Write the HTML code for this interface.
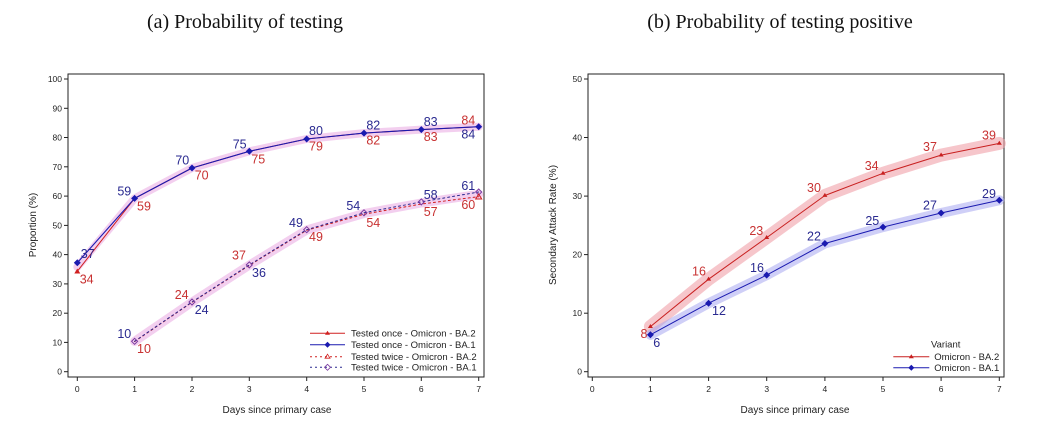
<!DOCTYPE html>
<html><head><meta charset="utf-8"><style>
body{margin:0;background:#fff}
svg{display:block;font-family:"Liberation Sans",sans-serif}
.t{font-family:"Liberation Serif",serif;font-size:20px;fill:#111}
.tk{font-size:8.5px;fill:#222}
.ax{font-size:10px;fill:#222}
.r{fill:#c83232;font-size:12.5px;text-anchor:middle}
.b{fill:#2a2a90;font-size:12.5px;text-anchor:middle}
.lg{font-size:9.5px;fill:#222}
</style></head><body>
<svg width="1048" height="441" viewBox="0 0 1048 441">
<rect width="1048" height="441" fill="#fff"/>
<text class="t" x="245" y="28" text-anchor="middle">(a) Probability of testing</text>
<text class="t" x="780" y="28" text-anchor="middle">(b) Probability of testing positive</text>

<!-- Panel A -->
<rect x="68" y="74" width="416" height="303" fill="none" stroke="#222" stroke-width="1"/>
<g stroke="#222" stroke-width="1">
<line x1="64" y1="371.7" x2="68" y2="371.7"/><line x1="64" y1="342.4" x2="68" y2="342.4"/><line x1="64" y1="313.2" x2="68" y2="313.2"/><line x1="64" y1="283.9" x2="68" y2="283.9"/><line x1="64" y1="254.6" x2="68" y2="254.6"/><line x1="64" y1="225.4" x2="68" y2="225.4"/><line x1="64" y1="196.1" x2="68" y2="196.1"/><line x1="64" y1="166.8" x2="68" y2="166.8"/><line x1="64" y1="137.5" x2="68" y2="137.5"/><line x1="64" y1="108.3" x2="68" y2="108.3"/><line x1="64" y1="79" x2="68" y2="79"/>
<line x1="77.3" y1="377" x2="77.3" y2="381"/><line x1="134.6" y1="377" x2="134.6" y2="381"/><line x1="192" y1="377" x2="192" y2="381"/><line x1="249.3" y1="377" x2="249.3" y2="381"/><line x1="306.7" y1="377" x2="306.7" y2="381"/><line x1="364" y1="377" x2="364" y2="381"/><line x1="421.3" y1="377" x2="421.3" y2="381"/><line x1="478.7" y1="377" x2="478.7" y2="381"/>
</g>
<g class="tk" text-anchor="end">
<text x="62" y="374.7">0</text><text x="62" y="345.4">10</text><text x="62" y="316.2">20</text><text x="62" y="286.9">30</text><text x="62" y="257.6">40</text><text x="62" y="228.4">50</text><text x="62" y="199.1">60</text><text x="62" y="169.8">70</text><text x="62" y="140.5">80</text><text x="62" y="111.3">90</text><text x="62" y="82">100</text>
</g>
<g class="tk" text-anchor="middle">
<text x="77.3" y="392">0</text><text x="134.6" y="392">1</text><text x="192" y="392">2</text><text x="249.3" y="392">3</text><text x="306.7" y="392">4</text><text x="364" y="392">5</text><text x="421.3" y="392">6</text><text x="478.7" y="392">7</text>
</g>
<text class="ax" x="277" y="413" text-anchor="middle">Days since primary case</text>
<text class="ax" transform="translate(36,225) rotate(-90)" text-anchor="middle">Proportion (%)</text>

<g fill="none" stroke-linejoin="round" stroke-linecap="round">
<polyline points="77.3,267 134.6,198.4 192,168 249.3,151.3 306.7,139 364,133.1 421.3,129.6 478.7,126.7" stroke="#d040c0" stroke-opacity="0.25" stroke-width="8"/>
<polyline points="134.6,341.4 192,302.1 249.3,265.1 306.7,230 364,213.5 421.3,203 478.7,194.3" stroke="#d040c0" stroke-opacity="0.25" stroke-width="9"/>
<polyline points="77.3,271.3 134.6,198.4 192,168 249.3,151.3 306.7,139 364,133.1 421.3,129.6 478.7,126.7" stroke="#d02020" stroke-width="1"/>
<polyline points="77.3,262.8 134.6,198.4 192,168 249.3,151.3 306.7,139 364,133.1 421.3,129.6 478.7,126.7" stroke="#1a1ab0" stroke-width="1.1"/>
<polyline points="134.6,341.6 192,302.3 249.3,265.4 306.7,230.3 364,214.2 421.3,204 478.7,196.7" stroke="#d02020" stroke-width="1" stroke-dasharray="2,3"/>
<polyline points="134.6,341.3 192,302 249.3,264.9 306.7,229.7 364,212.8 421.3,201.9 478.7,192" stroke="#2a2a90" stroke-width="1" stroke-dasharray="2,3"/>
</g>
<g fill="#1a1ab0">
<path d="M77.3,259.3 l3.5,3.5 -3.5,3.5 -3.5,-3.5z"/><path d="M134.6,194.9 l3.5,3.5 -3.5,3.5 -3.5,-3.5z"/><path d="M192,164.5 l3.5,3.5 -3.5,3.5 -3.5,-3.5z"/><path d="M249.3,147.8 l3.5,3.5 -3.5,3.5 -3.5,-3.5z"/><path d="M306.7,135.5 l3.5,3.5 -3.5,3.5 -3.5,-3.5z"/><path d="M364,129.6 l3.5,3.5 -3.5,3.5 -3.5,-3.5z"/><path d="M421.3,126.1 l3.5,3.5 -3.5,3.5 -3.5,-3.5z"/><path d="M478.7,123.2 l3.5,3.5 -3.5,3.5 -3.5,-3.5z"/>
</g>
<path d="M77.3,268.5 l3,5 -6,0z" fill="#d02020"/>
<g fill="none" stroke="#7a3aa0" stroke-width="1">
<path d="M134.6,338.3 l3,3 -3,3 -3,-3z"/><path d="M192,299 l3,3 -3,3 -3,-3z"/><path d="M249.3,261.9 l3,3 -3,3 -3,-3z"/><path d="M306.7,226.7 l3,3 -3,3 -3,-3z"/><path d="M364,209.8 l3,3 -3,3 -3,-3z"/><path d="M421.3,198.9 l3,3 -3,3 -3,-3z"/><path d="M478.7,189 l3,3 -3,3 -3,-3z"/>
</g>
<path d="M478.7,194 l3,5 -6,0z" fill="none" stroke="#d02020"/>

<g>
<text class="b" x="87.7" y="257.8">37</text><text class="r" x="86.7" y="283.5">34</text>
<text class="b" x="124.3" y="195.5">59</text><text class="r" x="144" y="210.5">59</text>
<text class="b" x="182.3" y="164.5">70</text><text class="r" x="201.7" y="179.5">70</text>
<text class="b" x="239.7" y="148.5">75</text><text class="r" x="258.3" y="163.5">75</text>
<text class="b" x="316" y="135.2">80</text><text class="r" x="316" y="150.5">79</text>
<text class="b" x="373.3" y="129.5">82</text><text class="r" x="373.3" y="144.5">82</text>
<text class="b" x="430.7" y="126.2">83</text><text class="r" x="430.7" y="141.2">83</text>
<text class="r" x="468.3" y="124.5">84</text><text class="b" x="468.3" y="138.5">84</text>
<text class="b" x="124.3" y="337.8">10</text><text class="r" x="144" y="353.2">10</text>
<text class="r" x="181.7" y="298.8">24</text><text class="b" x="201.7" y="313.8">24</text>
<text class="r" x="239" y="259.5">37</text><text class="b" x="259" y="277.2">36</text>
<text class="b" x="296" y="227.2">49</text><text class="r" x="316" y="241.2">49</text>
<text class="b" x="353.3" y="210.2">54</text><text class="r" x="373.3" y="226.8">54</text>
<text class="b" x="430.7" y="198.8">58</text><text class="r" x="430.7" y="216.2">57</text>
<text class="b" x="468.3" y="190.2">61</text><text class="r" x="468.3" y="208.8">60</text>
</g>

<g>
<line x1="310" y1="333.3" x2="345" y2="333.3" stroke="#d02020"/><path d="M327.5,330.8 l2.5,4 -5,0z" fill="#d02020"/>
<line x1="310" y1="344.7" x2="345" y2="344.7" stroke="#1a1ab0"/><path d="M327.5,341.7 l3,3 -3,3 -3,-3z" fill="#1a1ab0"/>
<line x1="310" y1="356.7" x2="345" y2="356.7" stroke="#d02020" stroke-dasharray="2,3"/><path d="M327.5,354.2 l2.5,4 -5,0z" fill="none" stroke="#d02020" stroke-width="0.8"/>
<line x1="310" y1="367.3" x2="345" y2="367.3" stroke="#2a2a90" stroke-dasharray="2,3"/><path d="M327.5,364.3 l3,3 -3,3 -3,-3z" fill="none" stroke="#7a3aa0" stroke-width="0.8"/>
<text class="lg" x="351" y="336.5">Tested once - Omicron - BA.2</text>
<text class="lg" x="351" y="347.9">Tested once - Omicron - BA.1</text>
<text class="lg" x="351" y="359.9">Tested twice - Omicron - BA.2</text>
<text class="lg" x="351" y="370.5">Tested twice - Omicron - BA.1</text>
</g>

<!-- Panel B -->
<rect x="588" y="74" width="416" height="303" fill="none" stroke="#222" stroke-width="1"/>
<g stroke="#222" stroke-width="1">
<line x1="584" y1="371.7" x2="588" y2="371.7"/><line x1="584" y1="313.2" x2="588" y2="313.2"/><line x1="584" y1="254.6" x2="588" y2="254.6"/><line x1="584" y1="196.1" x2="588" y2="196.1"/><line x1="584" y1="137.5" x2="588" y2="137.5"/><line x1="584" y1="79" x2="588" y2="79"/>
<line x1="592.3" y1="377" x2="592.3" y2="381"/><line x1="650.4" y1="377" x2="650.4" y2="381"/><line x1="708.6" y1="377" x2="708.6" y2="381"/><line x1="766.7" y1="377" x2="766.7" y2="381"/><line x1="824.9" y1="377" x2="824.9" y2="381"/><line x1="883" y1="377" x2="883" y2="381"/><line x1="941.1" y1="377" x2="941.1" y2="381"/><line x1="999.3" y1="377" x2="999.3" y2="381"/>
</g>
<g class="tk" text-anchor="end">
<text x="582" y="374.7">0</text><text x="582" y="316.2">10</text><text x="582" y="257.6">20</text><text x="582" y="199.1">30</text><text x="582" y="140.5">40</text><text x="582" y="82">50</text>
</g>
<g class="tk" text-anchor="middle">
<text x="592.3" y="392">0</text><text x="650.4" y="392">1</text><text x="708.6" y="392">2</text><text x="766.7" y="392">3</text><text x="824.9" y="392">4</text><text x="883" y="392">5</text><text x="941.1" y="392">6</text><text x="999.3" y="392">7</text>
</g>
<text class="ax" x="795" y="413" text-anchor="middle">Days since primary case</text>
<text class="ax" transform="translate(556,225) rotate(-90)" text-anchor="middle">Secondary Attack Rate (%)</text>

<g fill="none" stroke-linejoin="round" stroke-linecap="round">
<polyline points="650.4,326.6 708.6,279.2 766.7,237.6 824.9,195.5 883,173.3 941.1,155.1 999.3,143.4" stroke="#f0a0a8" stroke-opacity="0.6" stroke-width="13"/>
<polyline points="650.4,334.8 708.6,303.2 766.7,275.1 824.9,243.5 883,227.1 941.1,213 999.3,200.2" stroke="#a8a8f0" stroke-opacity="0.55" stroke-width="10"/>
<polyline points="650.4,326.6 708.6,279.2 766.7,237.6 824.9,195.5 883,173.3 941.1,155.1 999.3,143.4" stroke="#c82020" stroke-width="1"/>
<polyline points="650.4,334.8 708.6,303.2 766.7,275.1 824.9,243.5 883,227.1 941.1,213 999.3,200.2" stroke="#1a1ab0" stroke-width="1"/>
</g>
<g fill="#c82020">
<path d="M650.4,324 l2.5,4 -5,0z"/><path d="M708.6,276.6 l2.5,4 -5,0z"/><path d="M766.7,235 l2.5,4 -5,0z"/><path d="M824.9,192.9 l2.5,4 -5,0z"/><path d="M883,170.7 l2.5,4 -5,0z"/><path d="M941.1,152.5 l2.5,4 -5,0z"/><path d="M999.3,140.8 l2.5,4 -5,0z"/>
</g>
<g fill="#1a1ab0">
<path d="M650.4,331.3 l3.5,3.5 -3.5,3.5 -3.5,-3.5z"/><path d="M708.6,299.7 l3.5,3.5 -3.5,3.5 -3.5,-3.5z"/><path d="M766.7,271.6 l3.5,3.5 -3.5,3.5 -3.5,-3.5z"/><path d="M824.9,240 l3.5,3.5 -3.5,3.5 -3.5,-3.5z"/><path d="M883,223.6 l3.5,3.5 -3.5,3.5 -3.5,-3.5z"/><path d="M941.1,209.5 l3.5,3.5 -3.5,3.5 -3.5,-3.5z"/><path d="M999.3,196.7 l3.5,3.5 -3.5,3.5 -3.5,-3.5z"/>
</g>
<g>
<text class="r" x="644" y="337.8">8</text><text class="b" x="656.7" y="346.8">6</text>
<text class="r" x="699" y="275.5">16</text><text class="b" x="719" y="315.2">12</text>
<text class="r" x="756.3" y="235.2">23</text><text class="b" x="757" y="271.8">16</text>
<text class="r" x="814" y="192.2">30</text><text class="b" x="814" y="240.5">22</text>
<text class="r" x="871.7" y="169.8">34</text><text class="b" x="872.3" y="225.2">25</text>
<text class="r" x="930" y="151.2">37</text><text class="b" x="930" y="209.5">27</text>
<text class="r" x="989" y="139.5">39</text><text class="b" x="989" y="197.8">29</text>
</g>
<g>
<text class="lg" x="945.7" y="347.5" text-anchor="middle">Variant</text>
<line x1="893.3" y1="356.7" x2="929.3" y2="356.7" stroke="#c82020"/><path d="M911.3,354.2 l2.5,4 -5,0z" fill="#c82020"/>
<line x1="893.3" y1="367.7" x2="929.3" y2="367.7" stroke="#1a1ab0"/><path d="M911.3,364.7 l3,3 -3,3 -3,-3z" fill="#1a1ab0"/>
<text class="lg" x="934.3" y="360">Omicron - BA.2</text>
<text class="lg" x="934.3" y="371">Omicron - BA.1</text>
</g>
</svg>
</body></html>
